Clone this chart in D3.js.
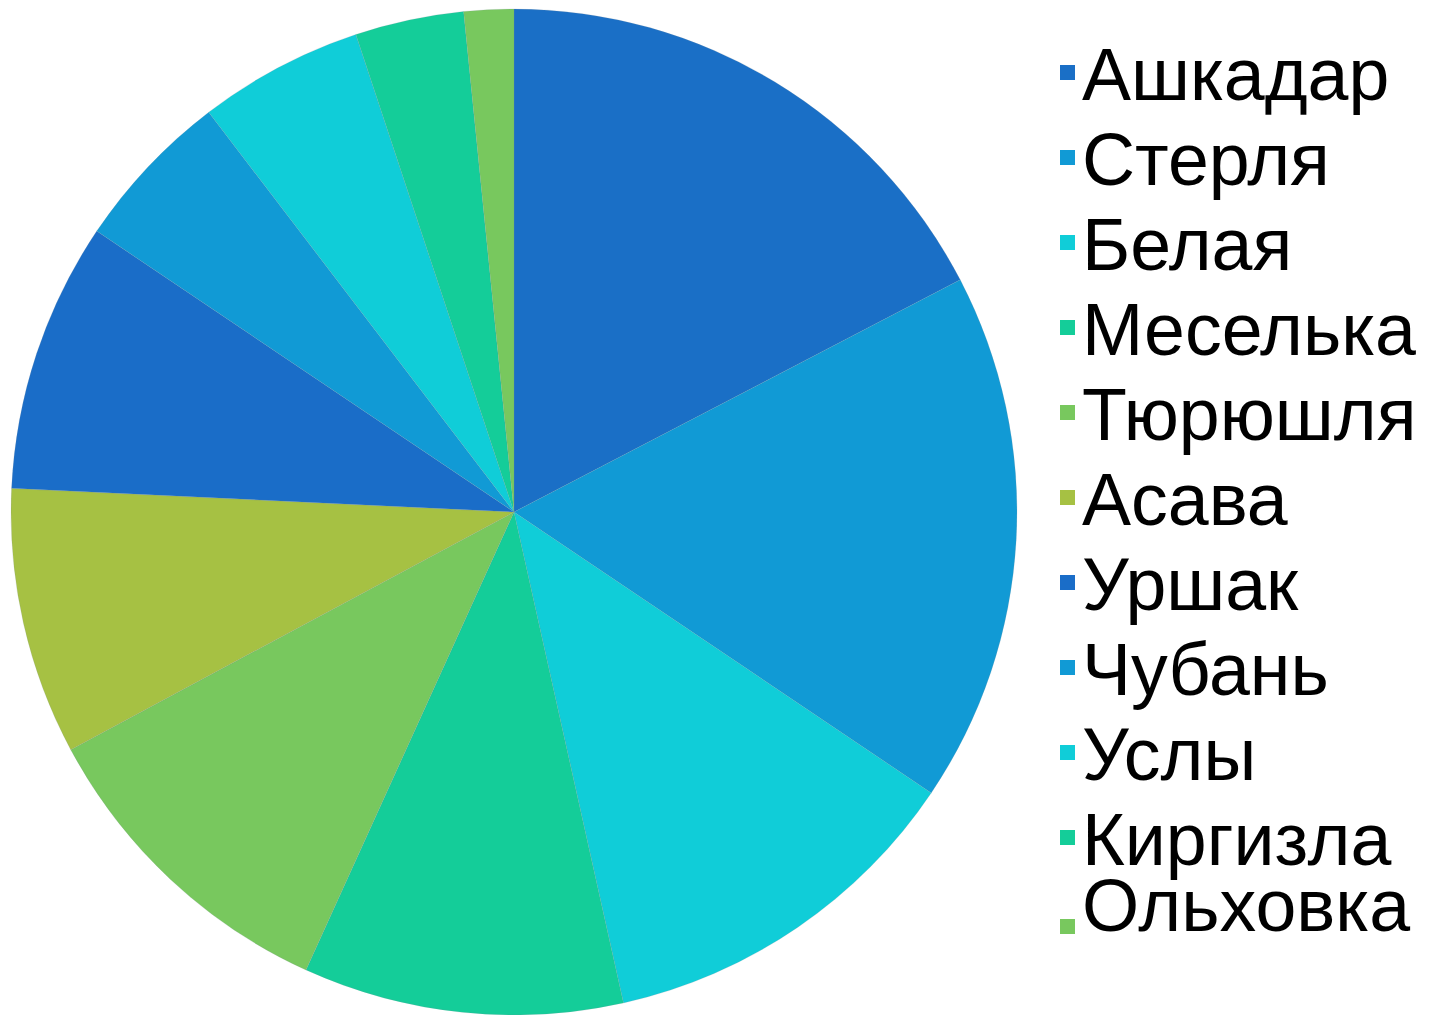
<!DOCTYPE html>
<html>
<head>
<meta charset="utf-8">
<script src="https://cdn.jsdelivr.net/npm/d3@7"></script>
<style>
body{margin:0;background:#fff;}
svg{display:block;}
</style>
</head>
<body>
<script>
// data
const rivers=["Ашкадар","Стерля","Белая","Меселька","Тюрюшля","Асава","Уршак","Чубань","Услы","Киргизла","Ольховка"];
const shares=[17.4,17.1,12.1,10.3,10.4,8.6,8.7,5.2,5.3,3.5,1.6];
const palette=["#1a6fc6","#119ad5","#10cdd8","#14cd99","#78c85e","#a6c143","#1a6dc8","#119ad5","#10cdd8","#14cd99","#78c85e"];

const w=1431,h=1015;
const cx=514,cy=512,r=503;

const color=d3.scaleOrdinal().domain(rivers).range(palette);

const svg=d3.select("body").append("svg")
  .attr("width",w)
  .attr("height",h);

const table=rivers.map((name,i)=>({name,value:shares[i]}));

const pie=d3.pie().sort(null).value(d=>d.value);
const arc=d3.arc().innerRadius(0).outerRadius(r);

svg.append("g")
  .attr("transform","translate("+cx+","+cy+")")
  .selectAll("path")
  .data(pie(table))
  .enter()
  .append("path")
  .attr("d",arc)
  .attr("fill",d=>color(d.data.name))
  .attr("stroke","rgba(120,140,150,0.25)")
  .attr("stroke-width",0.7);

// legend
const row=85;
const legend=svg.append("g")
  .selectAll("g")
  .data(rivers)
  .enter()
  .append("g")
  .attr("transform",(d,i)=>{
    // last line is squeezed in the original
    const y=i<rivers.length-1 ? 100+i*row : 100+(i-1)*row+66;
    return "translate(0,"+y+")";
  });

legend.append("rect")
  .attr("x",1060)
  .attr("y",(d,i)=>i<rivers.length-1 ? -35 : -12)
  .attr("width",15)
  .attr("height",15)
  .attr("fill",d=>color(d));

legend.append("text")
  .attr("x",1082)
  .attr("y",0)
  .style("font-family","'Liberation Sans',Arial,sans-serif")
  .style("font-size","73.5px")
  .style("fill","#000")
  .text(d=>d);
</script>
</body>
</html>
